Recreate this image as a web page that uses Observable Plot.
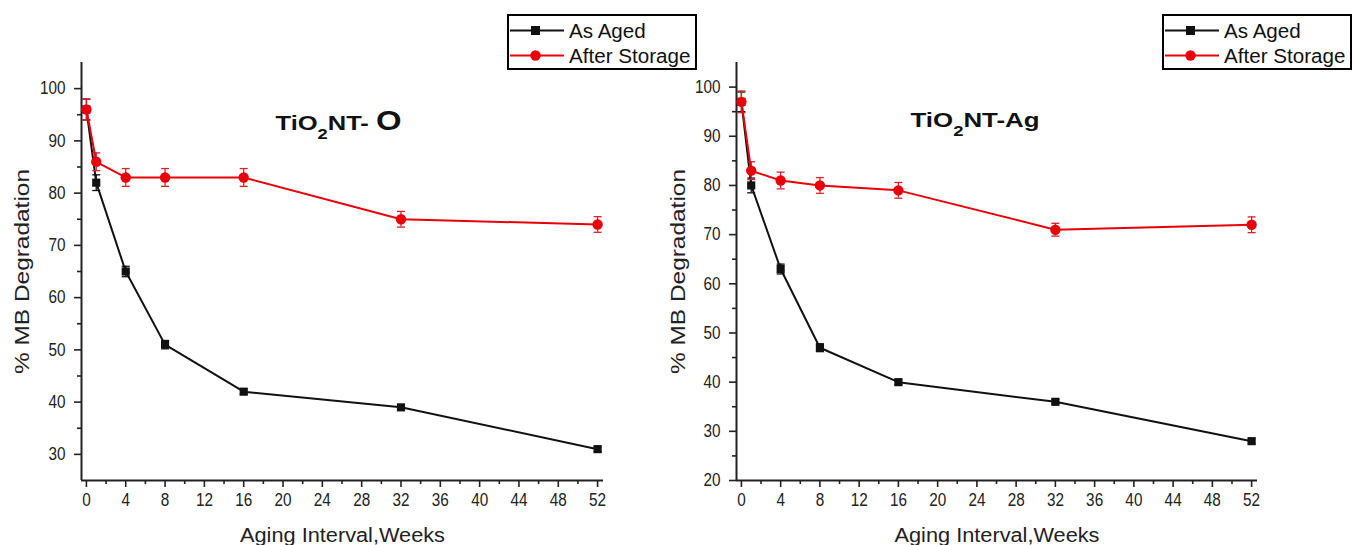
<!DOCTYPE html>
<html>
<head>
<meta charset="utf-8">
<script src="https://cdn.jsdelivr.net/npm/d3@7"></script>
<script src="https://cdn.jsdelivr.net/npm/@observablehq/plot@0.6"></script>
<style>
  html, body { margin: 0; padding: 0; background: #fff; }
  #wrap { position: relative; width: 1353px; height: 545px; overflow: hidden; font-family: "Liberation Sans", Arial, sans-serif; }
  #wrap svg.plot { position: absolute; top: 0; }
  .legend { position: absolute; top: 14px; height: 52px; border: 2.5px solid #000; background: #fff; box-sizing: content-box; }
  .legend .row { position: absolute; left: 0; height: 24px; display: flex; align-items: center; font-size: 20px; color: #111; white-space: nowrap; }
  .legend .row svg { margin-right: 4px; flex: none; }
  .legend .row span { display: inline-block; transform: scaleX(1.03); transform-origin: left center; }
</style>
</head>
<body>
<div id="wrap"></div>
<script>
// ---- data ----
const weeks = [0, 1, 4, 8, 16, 32, 52];

const oAged       = [96, 82, 65, 51, 42, 39, 31];
const oAgedErr    = [2.0, 1.5, 1.0, 0.8, 0.5, 0.5, 0.5];
const oStored     = [96, 86, 83, 83, 83, 75, 74];
const oStoredErr  = [2.0, 1.7, 1.7, 1.7, 1.7, 1.5, 1.5];

const agAged      = [97, 80, 63, 47, 40, 36, 28];
const agAgedErr   = [2.0, 1.5, 1.0, 0.8, 0.5, 0.5, 0.5];
const agStored    = [97, 83, 81, 80, 79, 71, 72];
const agStoredErr = [2.2, 1.8, 1.7, 1.6, 1.6, 1.3, 1.6];

const xMajorTicks = [0, 4, 8, 12, 16, 20, 24, 28, 32, 36, 40, 44, 48, 52];
const xMinorTicks = [2, 6, 10, 14, 18, 22, 26, 30, 34, 38, 42, 46, 50];
const oYTicks  = [30, 40, 50, 60, 70, 80, 90, 100];
const oYMinor  = [35, 45, 55, 65, 75, 85, 95];
const agYTicks = [20, 30, 40, 50, 60, 70, 80, 90, 100];
const agYMinor = [25, 35, 45, 55, 65, 75, 85, 95];

const seriesNames = ["As Aged", "After Storage"];
const xLabel = "Aging Interval,Weeks";
const yLabel = "% MB Degradation";

const BLACK = "#111";
const RED = "#e8000b";
const xDomain = [-0.5, 52.6];

const capSymbol = {
  draw(ctx, size) {
    const r = Math.sqrt(size / Math.PI);
    ctx.moveTo(-r, 0); ctx.lineTo(r, 0);
  }
};

function rows(vals, errs) {
  return weeks.map((w, i) => ({ w, v: vals[i], e: errs[i] }));
}

function panel(o) {
  const aged = rows(o.aged, o.agedErr);
  const stored = rows(o.stored, o.storedErr);
  const errMarks = (data, color) => [
    Plot.ruleX(data, { x: "w", y1: d => d.v - d.e, y2: d => d.v + d.e, stroke: color, strokeWidth: 1.3 }),
    Plot.dot(data, { x: "w", y: d => d.v + d.e, symbol: capSymbol, r: 4, stroke: color, strokeWidth: 1.3, fill: "none" }),
    Plot.dot(data, { x: "w", y: d => d.v - d.e, symbol: capSymbol, r: 4, stroke: color, strokeWidth: 1.3, fill: "none" })
  ];
  const labelFont = "'Liberation Sans', Arial, sans-serif";
  const svg = Plot.plot({
    width: o.width,
    height: 545,
    marginLeft: o.marginLeft,
    marginRight: o.marginRight,
    marginTop: 62,
    marginBottom: 65,
    style: { fontFamily: labelFont, fontSize: "18px", color: "#222", background: "transparent", overflow: "visible" },
    x: { domain: xDomain },
    y: { domain: o.yDomain },
    marks: [
      Plot.axisX({ ticks: xMajorTicks, tickSize: 7, tickPadding: 6, strokeWidth: 1.6, label: null, fontSize: 18 }),
      Plot.axisX({ ticks: xMinorTicks, tickSize: 4, tickFormat: () => "", strokeWidth: 1.6, label: null }),
      Plot.axisY({ ticks: o.yTicks, tickSize: 7, tickPadding: 9, strokeWidth: 1.6, label: null, fontSize: 18 }),
      Plot.axisY({ ticks: o.yMinor, tickSize: 4, tickFormat: () => "", strokeWidth: 1.6, label: null }),
      Plot.ruleX([xDomain[0]], { stroke: "#222", strokeWidth: 2 }),
      Plot.ruleY([o.yDomain[0]], { stroke: "#222", strokeWidth: 2 }),
      ...errMarks(aged, BLACK),
      Plot.line(aged, { x: "w", y: "v", stroke: BLACK, strokeWidth: 2 }),
      Plot.dot(aged, { x: "w", y: "v", symbol: "square", r: 4.6, fill: BLACK, stroke: "none" }),
      ...errMarks(stored, "#d4242a"),
      Plot.line(stored, { x: "w", y: "v", stroke: RED, strokeWidth: 2 }),
      Plot.dot(stored, { x: "w", y: "v", symbol: "circle", r: 5.2, fill: RED, stroke: "none" }),
      Plot.text([yLabel], { frameAnchor: "left", textAnchor: "middle", lineAnchor: "middle", dx: o.yLabelDx, rotate: -90, fontSize: 20, fill: "#222", fontFamily: labelFont }),
      Plot.text([xLabel], { frameAnchor: "bottom", textAnchor: "middle", lineAnchor: "middle", dy: 55, fontSize: 20, fill: "#222", fontFamily: labelFont }),
      Plot.text([o.title], { frameAnchor: "top", textAnchor: "middle", lineAnchor: "middle", dx: o.titleDx, dy: o.titleDy, fontSize: 21, fontWeight: "bold", fill: "#111", fontFamily: labelFont })
    ]
  });
  svg.classList.add("plot");
  svg.style.left = o.left + "px";
  return svg;
}

function stretch(t, len) {
  t.setAttribute("textLength", len);
  t.setAttribute("lengthAdjust", "spacingAndGlyphs");
}

function finish(svg, o) {
  // condensed tick labels (as in the original figure)
  svg.querySelectorAll('g[aria-label$="tick label"] text').forEach(t => {
    const L = t.getComputedTextLength();
    if (L > 0) stretch(t, L * 0.85);
  });
  svg.querySelectorAll("text").forEach(t => {
    const s = t.textContent;
    if (s === o.title) {
      t.innerHTML = o.titleHTML;
      stretch(t, o.titleLen);
    } else if (s === xLabel || s === yLabel) {
      stretch(t, 205);
    }
  });
}

function legend(left) {
  const div = document.createElement("div");
  div.className = "legend";
  div.style.left = left + "px";
  div.style.width = "186px";
  const specs = [
    { name: seriesNames[0], color: BLACK, shape: "square" },
    { name: seriesNames[1], color: RED, shape: "circle" }
  ];
  specs.forEach((s, i) => {
    const row = document.createElement("div");
    row.className = "row";
    row.style.top = (i === 0 ? 3 : 28) + "px";
    const mk = s.shape === "square"
      ? `<rect x="22" y="7" width="9" height="9" fill="${s.color}"/>`
      : `<circle cx="26.5" cy="11.5" r="5.2" fill="${s.color}"/>`;
    row.innerHTML = `<svg width="56" height="24"><line x1="1" x2="55" y1="11.5" y2="11.5" stroke="${s.color}" stroke-width="2"/>${mk}</svg><span>${s.name}</span>`;
    div.appendChild(row);
  });
  return div;
}

const wrap = document.getElementById("wrap");
const left = {
  aged: oAged, agedErr: oAgedErr, stored: oStored, storedErr: oStoredErr,
  yDomain: [25, 105], yTicks: oYTicks, yMinor: oYMinor,
  width: 676, left: 0, marginLeft: 81, marginRight: 73, yLabelDx: -59,
  title: "TiO2NT- O", titleHTML: 'TiO<tspan baseline-shift="sub" font-size="15">2</tspan>NT- <tspan font-size="27">O</tspan>',
  titleLen: 126, titleDx: -4, titleDy: 61
};
const right = {
  aged: agAged, agedErr: agAgedErr, stored: agStored, storedErr: agStoredErr,
  yDomain: [20, 105], yTicks: agYTicks, yMinor: agYMinor,
  width: 677, left: 676, marginLeft: 60, marginRight: 96, yLabelDx: -58,
  title: "TiO2NT-Ag", titleHTML: 'TiO<tspan baseline-shift="sub" font-size="15">2</tspan>NT-Ag',
  titleLen: 129, titleDx: -22, titleDy: 58
};
const s1 = panel(left); wrap.appendChild(s1); finish(s1, left);
const s2 = panel(right); wrap.appendChild(s2); finish(s2, right);
wrap.appendChild(legend(507));
wrap.appendChild(legend(1162));
</script>
</body>
</html>
